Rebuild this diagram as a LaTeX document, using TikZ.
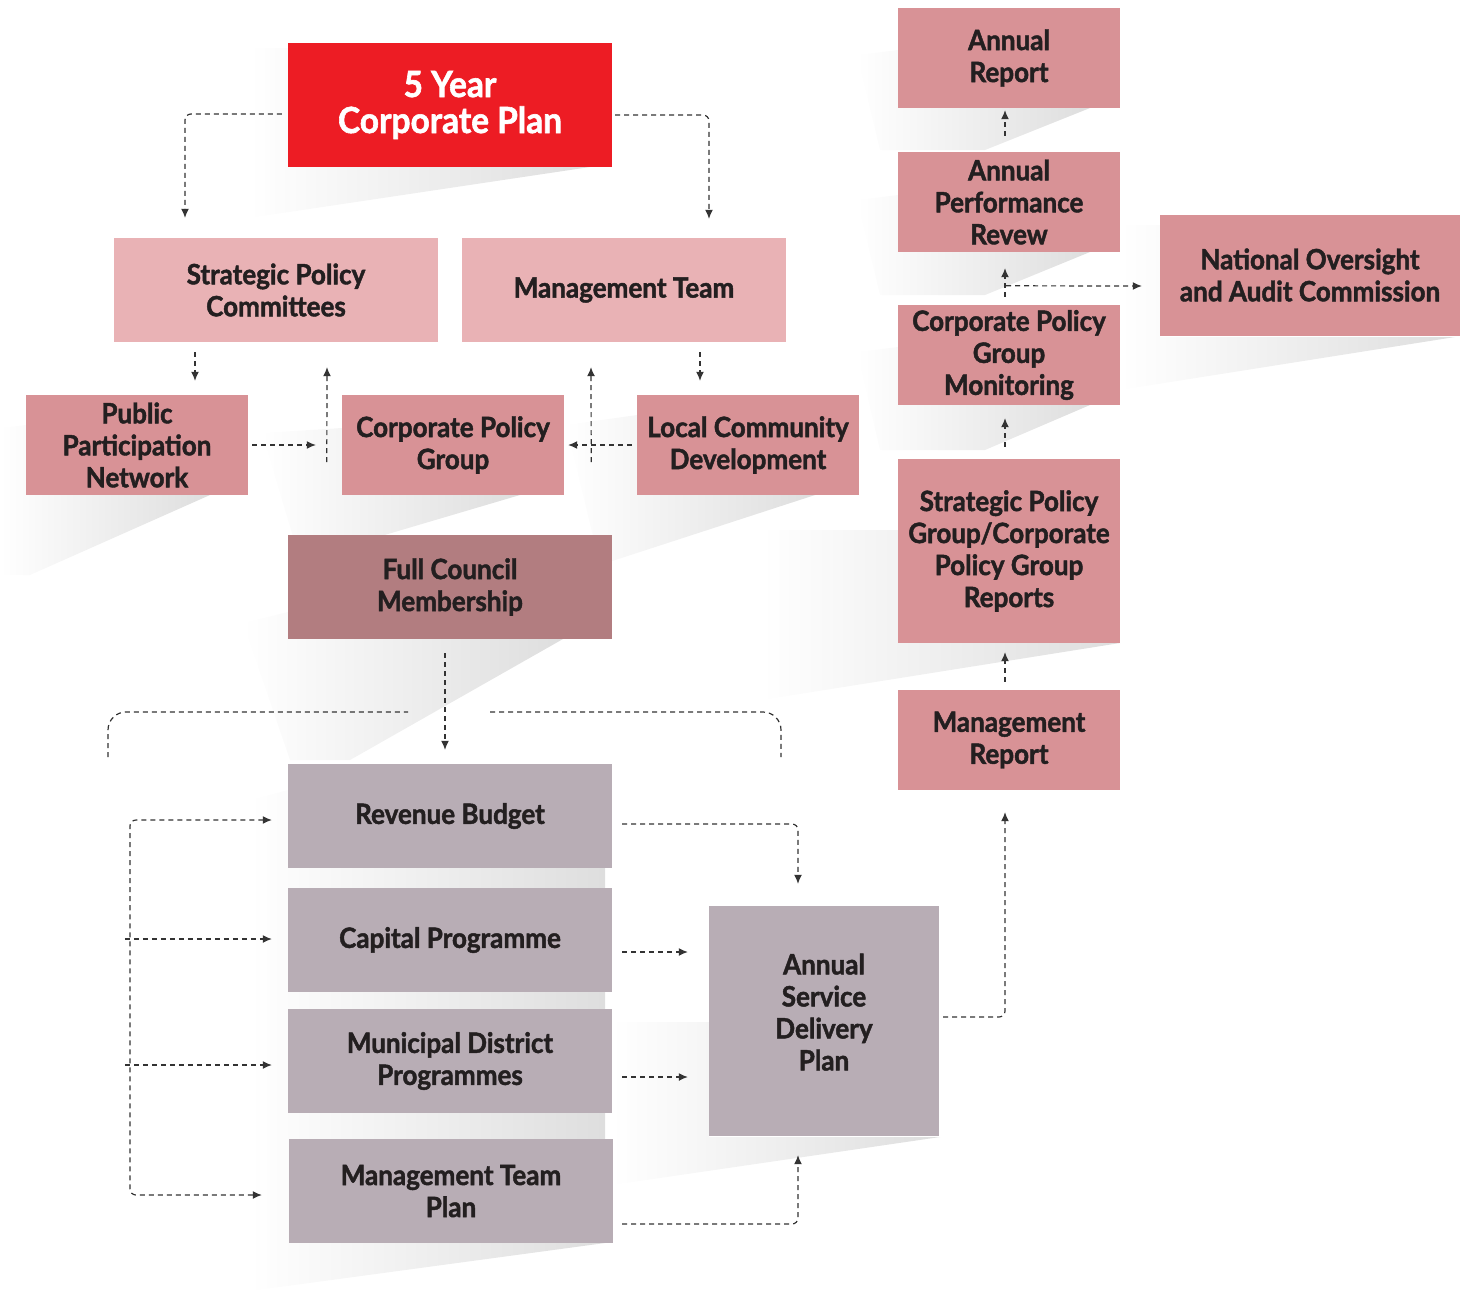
\documentclass[tikz,border=0pt]{standalone}
\usepackage{fontspec}
\setmainfont{Lato}[BoldFeatures={FakeBold=1.6, FakeStretch=0.93}]
\usetikzlibrary{calc,arrows.meta}

\definecolor{planred}{HTML}{ED1C24}
\definecolor{pinklight}{HTML}{E9B2B5}
\definecolor{pinkmid}{HTML}{D89296}
\definecolor{rose}{HTML}{B27D80}
\definecolor{mauve}{HTML}{B8ADB5}
\definecolor{txtgrey}{HTML}{231F20}
\definecolor{linegrey}{HTML}{333333}

\tikzset{
  panel/.style={inner sep=0pt, align=center, text=txtgrey,
    font=\bfseries\fontsize{28}{32}\selectfont},
  widebox/.style={panel, minimum width=324pt, minimum height=104pt},
  smallbox/.style={panel, minimum width=222pt, minimum height=100pt},
  flow/.style={draw=linegrey, line width=1.2pt, dash pattern=on 5pt off 4pt,
    rounded corners=6pt, -{Latex[length=9pt,width=8pt]}},
  flowplain/.style={draw=linegrey, line width=1.2pt, dash pattern=on 5pt off 4pt,
    rounded corners=18pt},
  backshade/.style={left color=white, right color=black!13, draw=none},
}

\begin{document}
\begin{tikzpicture}[x=1pt,y=-1pt]
        \useasboundingbox (0,0) rectangle (1461,1291);
        % 阴影
        \shade[backshade] (249,48) -- (288,48) -- (288,167) -- (590,167) -- (249,218) -- cycle;
        \shade[backshade] (0,428) -- (26,425) -- (26,495) -- (210,495) -- (30,575) -- (0,575) -- cycle;
        \shade[backshade] (262,433) -- (342,428) -- (342,495) -- (520,495) -- (300,560) -- cycle;
        \shade[backshade] (566,425) -- (637,415) -- (637,495) -- (815,495) -- (600,565) -- cycle;
        \shade[backshade] (243,623) -- (288,612) -- (288,639) -- (563,639) -- (350,760) -- (290,760) -- cycle;
        \shade[backshade] (250,800) -- (288,790) -- (605,790) -- (605,1243) -- (250,1291) -- cycle;
        \shade[backshade] (612,1022) -- (709,1022) -- (709,1137) -- (940,1137) -- (612,1185) -- cycle;
        \shade[backshade] (762,530) -- (898,530) -- (898,643) -- (1120,643) -- (762,700) -- cycle;
        \shade[backshade] (857,55) -- (898,50) -- (898,108) -- (1090,108) -- (985,150) -- (880,150) -- cycle;
        \shade[backshade] (857,200) -- (898,195) -- (898,252) -- (1090,252) -- (985,295) -- (880,295) -- cycle;
        \shade[backshade] (857,352) -- (898,347) -- (898,405) -- (1090,405) -- (985,450) -- (880,450) -- cycle;
        \shade[backshade] (1120,225) -- (1160,225) -- (1160,337) -- (1455,337) -- (1120,390) -- cycle;

        % 左侧方框
        \node[widebox, fill=planred, text=white, minimum height=124pt,
              font=\bfseries\fontsize{36}{36}\selectfont] (plan) at (450,105) {5 Year\\Corporate Plan};
        \node[widebox, fill=pinklight] (spc) at (276,290) {Strategic Policy\\Committees};
        \node[widebox, fill=pinklight] (mt) at (624,290) {Management Team};
        \node[smallbox, fill=pinkmid] (ppn) at (137,445) {Public\\Participation\\Network};
        \node[smallbox, fill=pinkmid] (cpg) at (453,445) {Corporate Policy\\Group};
        \node[smallbox, fill=pinkmid] (lcd) at (748,445) {Local Community\\Development};
        \node[widebox, fill=rose] (fcm) at (450,587) {Full Council\\Membership};
        \node[widebox, fill=mauve] (rb) at (450,816) {Revenue Budget};
        \node[widebox, fill=mauve] (cp) at (450,940) {Capital Programme};
        \node[widebox, fill=mauve] (mdp) at (450,1061) {Municipal District\\Programmes};
        \node[widebox, fill=mauve] (mtp) at (451,1191) {Management Team\\Plan};
        \node[panel, fill=mauve, minimum width=230pt, minimum height=230pt] (asdp) at (824,1021) {Annual\\Service\\Delivery\\Plan\\[-14pt]};

        % 右侧方框
        \node[smallbox, fill=pinkmid] (ar) at (1009,58) {Annual\\Report};
        \node[smallbox, fill=pinkmid] (apr) at (1009,202) {Annual\\Performance\\Revew};
        \node[smallbox, fill=pinkmid] (cpgm) at (1009,355) {Corporate Policy\\Group\\Monitoring};
        \node[smallbox, fill=pinkmid, minimum height=184pt] (spgr) at (1009,551) {Strategic Policy\\Group/Corporate\\Policy Group\\Reports};
        \node[smallbox, fill=pinkmid] (mr) at (1009,740) {Management\\Report};
        \node[panel, fill=pinkmid, minimum width=300pt, minimum height=121pt] (noac) at (1310,275) {National Oversight\\and Audit Commission};

        % 上部连线
        \draw[flow] ($(plan.west)+(-6,9)$) -| ($(spc.north)+(-91,-20)$);
        \draw[flow] ($(plan.east)+(3,10)$) -| ($(mt.north)+(85,-19)$);
        \draw[flow] ($(spc.south)+(-81,10)$) -- ($(ppn.north)+(58,-14)$);
        \draw[flow] ($(cpg.west)+(-15,17)$) -- ($(spc.south)+(51,25)$);
        \draw[flow] ($(ppn.east)+(4,0)$) -- ($(cpg.west)+(-26,0)$);
        \draw[flow] ($(mt.south)+(76,10)$) -- ($(lcd.north)+(-48,-14)$);
        \draw[flow] ($(lcd.west)+(-5,0)$) -- ($(cpg.east)+(4,0)$);
        \draw[flow] ($(cpg.east)+(27,17)$) -- ($(mt.south)+(-33,25)$);
        \draw[flow] ($(fcm.south)+(-5,14)$) -- ($(rb.north)+(-5,-14)$);

        % 括号线
        \coordinate (braceL) at (108,757);
        \coordinate (braceR) at (781,757);
        \draw[flowplain] (braceL) |- (408,712);
        \draw[flowplain] (490,712) -| (braceR);

        % 下部连线
        \coordinate (bus) at (130,1000);
        \draw[flow, {Latex[length=9pt,width=8pt]}-{Latex[length=9pt,width=8pt]}]
            ($(rb.west)+(-16,4)$) -| (bus) |- ($(mtp.west)+(-27,4)$);
        \draw[flow] ($(cp.west)+(-163,-1)$) -- ($(cp.west)+(-16,-1)$);
        \draw[flow] ($(mdp.west)+(-163,4)$) -- ($(mdp.west)+(-16,4)$);
        \draw[flow] ($(rb.east)+(10,8)$) -| ($(asdp.north)+(-26,-22)$);
        \draw[flow] ($(cp.east)+(10,12)$) -- ($(asdp.west)+(-21,-69)$);
        \draw[flow] ($(mdp.east)+(10,16)$) -- ($(asdp.west)+(-21,56)$);
        \draw[flow] ($(mtp.east)+(9,33)$) -| ($(asdp.south)+(-26,19)$);

        % 右侧连线
        \draw[flow] ($(asdp.east)+(4,-4)$) -| ($(mr.south)+(-4,22)$);
        \draw[flow] ($(mr.north)+(-4,-8)$) -- ($(spgr.south)+(-4,9)$);
        \draw[flow] ($(spgr.north)+(-4,-12)$) -- ($(cpgm.south)+(-4,13)$);
        \draw[flow] ($(cpgm.north)+(-4,-8)$) -- ($(apr.south)+(-4,16)$);
        \draw[flow] ($(cpgm.north)+(-3,-19)$) -- ($(noac.west)+(-18,11)$);
        \draw[flow] ($(apr.north)+(-4,-16)$) -- ($(ar.south)+(-4,2)$);

    \end{tikzpicture}
\end{document}
